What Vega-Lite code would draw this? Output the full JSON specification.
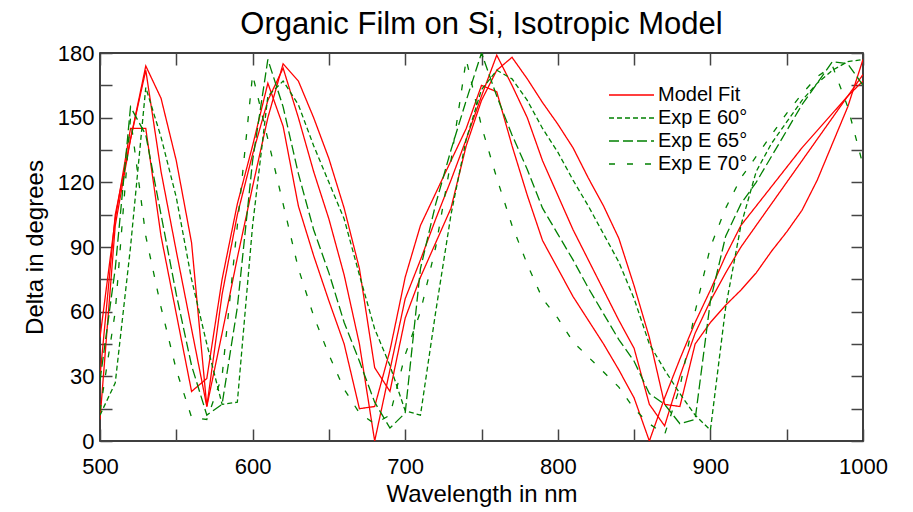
{
  "$schema": "https://vega.github.io/schema/vega-lite/v6.json",
  "width": 763,
  "height": 388,
  "autosize": {"type": "none"},
  "padding": {"left": 100, "top": 53, "right": 50, "bottom": 71},
  "title": {"text": "Organic Film on Si, Isotropic Model", "fontSize": 31, "font": "Liberation Sans", "fontWeight": "normal", "color": "black", "anchor": "middle", "offset": 1},
  "config": {
    "view": {"stroke": "black", "strokeWidth": 1.5},
    "axis": {"grid": false, "domain": false, "labelFlush": false, "tickColor": "#444", "tickWidth": 1.5, "tickSize": -12, "labelFont": "Liberation Sans", "labelFontSize": 22, "labelColor": "black", "titleFont": "Liberation Sans", "titleFontSize": 24, "titleFontWeight": "normal", "titleColor": "black"}
  },
  "data": {"values": [
    {"nm":500,"m60":10,"m65":30,"m70":48,"e60":12,"e65":28,"e70":14},
    {"nm":510,"m60":100,"m65":105,"m70":103,"e60":27,"e65":80,"e70":60},
    {"nm":520,"m60":140,"m65":140,"m70":145,"e60":90,"e65":155,"e70":150},
    {"nm":530,"m60":174,"m65":172,"m70":145,"e60":164,"e65":142,"e70":95},
    {"nm":540,"m60":159,"m65":125,"m70":95,"e60":141,"e65":105,"e70":62},
    {"nm":550,"m60":130,"m65":88,"m70":59,"e60":113,"e65":68,"e70":33},
    {"nm":560,"m60":92,"m65":52,"m70":23,"e60":75,"e65":35,"e70":11},
    {"nm":570,"m60":16,"m65":16,"m70":29,"e60":45,"e65":12,"e70":10},
    {"nm":580,"m60":50,"m65":68,"m70":75,"e60":17,"e65":17,"e70":30},
    {"nm":590,"m60":85,"m65":105,"m70":110,"e60":18,"e65":62,"e70":100},
    {"nm":600,"m60":118,"m65":133,"m70":137,"e60":100,"e65":130,"e70":170},
    {"nm":610,"m60":150,"m65":158,"m70":166,"e60":160,"e65":177,"e70":140},
    {"nm":620,"m60":175,"m65":173,"m70":146,"e60":167,"e65":155,"e70":110},
    {"nm":630,"m60":167,"m65":150,"m70":109,"e60":156,"e65":124,"e70":80},
    {"nm":640,"m60":150,"m65":125,"m70":86,"e60":137,"e65":98,"e70":58},
    {"nm":650,"m60":131,"m65":103,"m70":65,"e60":120,"e65":78,"e70":40},
    {"nm":660,"m60":108,"m65":77,"m70":45,"e60":103,"e65":55,"e70":24},
    {"nm":670,"m60":80,"m65":45,"m70":15,"e60":77,"e65":37,"e70":13},
    {"nm":680,"m60":34,"m65":0,"m70":16,"e60":52,"e65":18,"e70":8},
    {"nm":690,"m60":23,"m65":33,"m70":42,"e60":35,"e65":6,"e70":12},
    {"nm":700,"m60":57,"m65":66,"m70":76,"e60":14,"e65":13,"e70":40},
    {"nm":710,"m60":76,"m65":84,"m70":100,"e60":12,"e65":80,"e70":60},
    {"nm":720,"m60":92,"m65":103,"m70":115,"e60":60,"e65":110,"e70":90},
    {"nm":730,"m60":108,"m65":121,"m70":130,"e60":105,"e65":135,"e70":130},
    {"nm":740,"m60":137,"m65":140,"m70":145,"e60":140,"e65":158,"e70":177},
    {"nm":750,"m60":158,"m65":160,"m70":165,"e60":163,"e65":180,"e70":146},
    {"nm":760,"m60":172,"m65":179,"m70":162,"e60":172,"e65":160,"e70":122},
    {"nm":770,"m60":178,"m65":165,"m70":137,"e60":168,"e65":142,"e70":100},
    {"nm":780,"m60":168,"m65":150,"m70":114,"e60":158,"e65":126,"e70":82},
    {"nm":790,"m60":157,"m65":130,"m70":93,"e60":145,"e65":108,"e70":66},
    {"nm":800,"m60":147,"m65":114,"m70":80,"e60":134,"e65":96,"e70":57},
    {"nm":810,"m60":136,"m65":98,"m70":67,"e60":121,"e65":84,"e70":46},
    {"nm":820,"m60":122,"m65":84,"m70":56,"e60":109,"e65":71,"e70":39},
    {"nm":830,"m60":109,"m65":70,"m70":45,"e60":96,"e65":59,"e70":32},
    {"nm":840,"m60":94,"m65":56,"m70":33,"e60":83,"e65":47,"e70":25},
    {"nm":850,"m60":72,"m65":43,"m70":20,"e60":66,"e65":37,"e70":15},
    {"nm":860,"m60":48,"m65":17,"m70":0,"e60":45,"e65":22,"e70":8},
    {"nm":870,"m60":17,"m65":7,"m70":20,"e60":33,"e65":17,"e70":3},
    {"nm":880,"m60":16,"m65":30,"m70":38,"e60":22,"e65":8,"e70":25},
    {"nm":890,"m60":45,"m65":50,"m70":55,"e60":12,"e65":10,"e70":60},
    {"nm":900,"m60":55,"m65":65,"m70":70,"e60":5,"e65":65,"e70":90},
    {"nm":910,"m60":63,"m65":78,"m70":86,"e60":62,"e65":95,"e70":108},
    {"nm":920,"m60":70,"m65":90,"m70":100,"e60":100,"e65":110,"e70":122},
    {"nm":930,"m60":78,"m65":100,"m70":109,"e60":125,"e65":120,"e70":132},
    {"nm":940,"m60":88,"m65":110,"m70":118,"e60":138,"e65":132,"e70":142},
    {"nm":950,"m60":97,"m65":120,"m70":127,"e60":148,"e65":144,"e70":152},
    {"nm":960,"m60":107,"m65":130,"m70":136,"e60":158,"e65":156,"e70":161},
    {"nm":970,"m60":121,"m65":140,"m70":144,"e60":166,"e65":166,"e70":169},
    {"nm":980,"m60":138,"m65":150,"m70":152,"e60":172,"e65":176,"e70":174},
    {"nm":990,"m60":155,"m65":160,"m70":160,"e60":176,"e65":175,"e70":155},
    {"nm":1000,"m60":177,"m65":170,"m70":167,"e60":177,"e65":165,"e70":128}
  ]},
  "transform": [{"fold": ["m60", "m65", "m70", "e60", "e65", "e70"], "as": ["series", "delta"]}],
  "layer": [
    {
      "mark": {"type": "line", "strokeWidth": 1.3, "clip": true},
      "encoding": {
        "x": {"field": "nm", "type": "quantitative", "scale": {"domain": [500, 1000], "nice": false},
              "axis": {"orient": "bottom", "values": [500,550,600,650,700,750,800,850,900,950,1000], "format": "d", "labelExpr": "datum.value % 100 == 0 ? datum.label : ''", "labelPadding": 27, "title": "Wavelength in nm", "titlePadding": 5}},
        "y": {"field": "delta", "type": "quantitative", "scale": {"domain": [0, 180], "nice": false},
              "axis": {"orient": "left", "values": [0,15,30,45,60,75,90,105,120,135,150,165,180], "format": "d", "labelExpr": "datum.value % 30 == 0 ? datum.label : ''", "labelPadding": 18, "title": "Delta in degrees", "titlePadding": 10}},
        "color": {"field": "series", "type": "nominal",
                  "scale": {"domain": ["m60", "e60", "e65", "e70", "m65", "m70"], "range": ["#ff0000", "#008000", "#008000", "#008000", "#ff0000", "#ff0000"]},
                  "legend": {"orient": "none", "legendX": 508, "legendY": 31, "title": null, "values": ["m60", "e60", "e65", "e70"], "labelExpr": "datum.label == 'm60' ? 'Model Fit' : datum.label == 'e60' ? 'Exp E 60°' : datum.label == 'e65' ? 'Exp E 65°' : 'Exp E 70°'", "symbolType": "stroke", "symbolSize": 2025, "symbolStrokeWidth": 1.3, "labelFontSize": 20, "labelFont": "Liberation Sans", "labelColor": "black", "clipHeight": 22, "rowPadding": 1, "labelOffset": 3, "padding": 0}},
        "strokeDash": {"field": "series", "type": "nominal",
                  "scale": {"domain": ["m60", "e60", "e65", "e70", "m65", "m70"], "range": [[1, 0], [5, 3], [10, 4], [6, 12], [1, 0], [1, 0]]},
                  "legend": {"orient": "none", "legendX": 508, "legendY": 31, "title": null, "values": ["m60", "e60", "e65", "e70"], "labelExpr": "datum.label == 'm60' ? 'Model Fit' : datum.label == 'e60' ? 'Exp E 60°' : datum.label == 'e65' ? 'Exp E 65°' : 'Exp E 70°'", "symbolType": "stroke", "symbolSize": 2025, "symbolStrokeWidth": 1.3, "labelFontSize": 20, "labelFont": "Liberation Sans", "labelColor": "black", "clipHeight": 22, "rowPadding": 1, "labelOffset": 3, "padding": 0}}
      }
    },
    {
      "mark": {"type": "line", "opacity": 0},
      "encoding": {
        "x": {"field": "nm", "type": "quantitative", "scale": {"domain": [500, 1000], "nice": false},
              "axis": {"orient": "top", "values": [500,550,600,650,700,750,800,850,900,950,1000], "labels": false, "title": null}},
        "y": {"field": "delta", "type": "quantitative", "scale": {"domain": [0, 180], "nice": false},
              "axis": {"orient": "right", "values": [0,15,30,45,60,75,90,105,120,135,150,165,180], "labels": false, "title": null}}
      }
    }
  ],
  "resolve": {"axis": {"x": "independent", "y": "independent"}}
}
